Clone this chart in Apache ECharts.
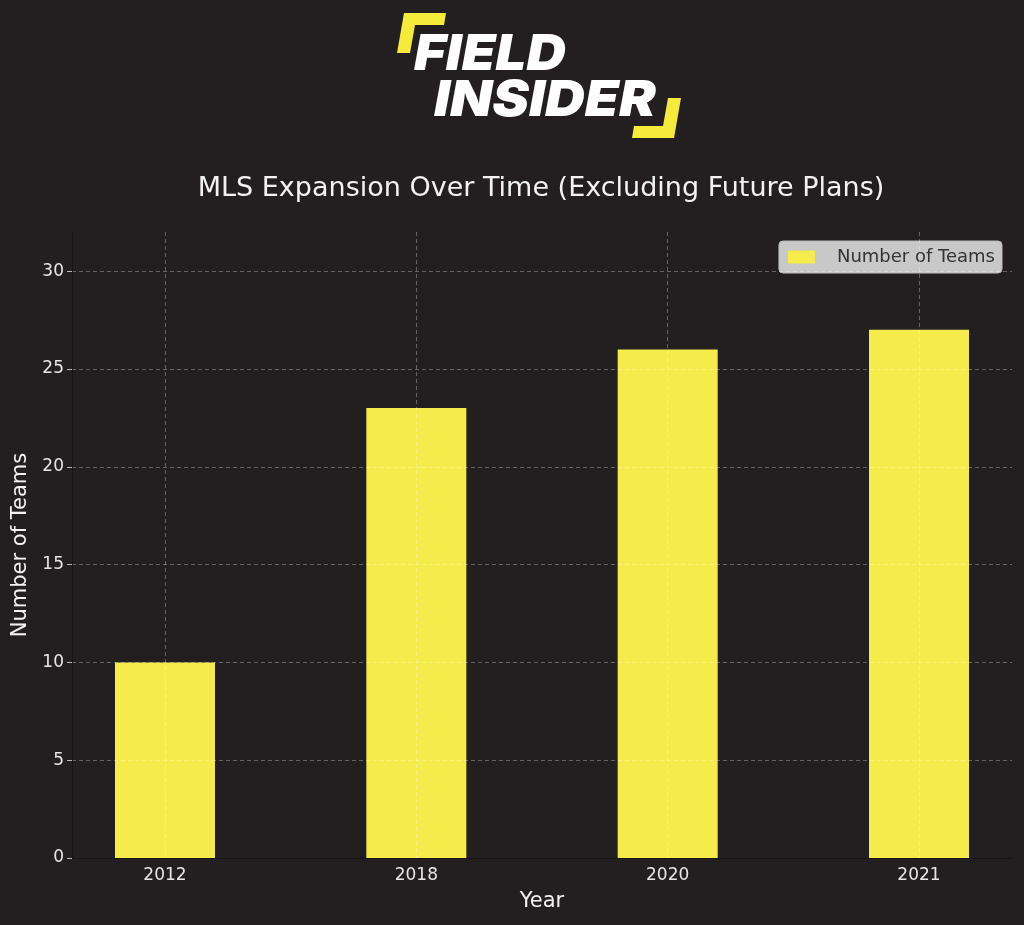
<!DOCTYPE html>
<html>
<head>
<meta charset="utf-8">
<script src="https://cdn.jsdelivr.net/npm/echarts@6/dist/echarts.min.js"></script>
<style>
html,body{margin:0;padding:0;background:#231f20;}
#chart{width:1024px;height:925px;}
</style>
</head>
<body>
<div id="chart"></div>
<script>
const years = ['2012', '2018', '2020', '2021'];
const teams = [10, 23, 26, 27];
const yTicks = [0, 5, 10, 15, 20, 25, 30];

const FONT = 'DejaVu Sans';
const positions = years.map((_, i) => i);
const barData = teams.map((v, i) => [i, v]);

const chart = echarts.init(document.getElementById('chart'), null, {renderer: 'canvas'});
chart.setOption({
  backgroundColor: '#231f20',
  animation: false,
  title: {
    text: 'MLS Expansion Over Time (Excluding Future Plans)',
    left: 536,
    textAlign: 'center',
    top: 170,
    textStyle: {color: '#f2f2f2', fontFamily: FONT, fontSize: 27, fontWeight: 'normal'}
  },
  legend: {
    data: ['Number of Teams'],
    icon: 'rect',
    right: 22,
    top: 241,
    itemWidth: 27,
    itemHeight: 13,
    backgroundColor: 'rgba(215,215,215,0.92)',
    borderColor: '#bbbbbb',
    borderWidth: 1,
    borderRadius: 4,
    padding: [7, 7, 7, 9],
    textStyle: {color: '#333333', fontFamily: FONT, fontSize: 18, padding: [0, 0, 0, 17]},
    itemGap: 10
  },
  grid: {left: 72, right: 12, top: 232, bottom: 67, outerBoundsMode: 'none', containLabel: false},
  xAxis: {
    type: 'value',
    min: -0.37,
    max: 3.37,
    z: 5,
    name: 'Year',
    nameLocation: 'middle',
    nameGap: 33,
    nameTextStyle: {color: '#f2f2f2', fontFamily: FONT, fontSize: 21},
    axisLine: {show: true, onZero: false, lineStyle: {color: '#161414', width: 1}},
    axisTick: {show: false, customValues: positions},
    axisLabel: {
      customValues: positions,
      color: '#e6e6e6', fontFamily: FONT, fontSize: 17, margin: 9,
      formatter: v => years[Math.round(v)]
    },
    splitLine: {show: true, lineStyle: {color: 'rgba(255,255,255,0.3)', type: [4, 3], width: 1}}
  },
  yAxis: {
    type: 'value',
    min: 0,
    max: 32,
    interval: 5,
    z: 5,
    name: 'Number of Teams',
    nameLocation: 'middle',
    nameGap: 37,
    nameTextStyle: {color: '#f2f2f2', fontFamily: FONT, fontSize: 21},
    axisLine: {show: true, onZero: false, lineStyle: {color: '#161414', width: 1}},
    axisTick: {show: true, length: 5, lineStyle: {color: '#bbbbbb'}, customValues: yTicks},
    axisLabel: {customValues: yTicks, color: '#e6e6e6', fontFamily: FONT, fontSize: 17, margin: 8},
    splitLine: {show: true, lineStyle: {color: 'rgba(255,255,255,0.3)', type: [4, 3], width: 1}}
  },
  series: [{
    name: 'Number of Teams',
    type: 'bar',
    data: barData,
    barWidth: 100,
    itemStyle: {color: '#f5eb4b'},
    z: 2
  }],
  graphic: [
    {type: 'polygon', shape: {points: [[404,13],[446,13],[444,25],[415,25],[410,53],[397,53]]}, style: {fill: '#f5eb3a'}},
    {type: 'polygon', shape: {points: [[668,98],[681,98],[674,138],[632,138],[634,126],[663,126]]}, style: {fill: '#f5eb3a'}},
    {type: 'text', x: 414, y: 30, scaleX: 1.09, style: {text: 'FIELD', fill: '#ffffff', fontFamily: 'Inter', fontWeight: 900, fontStyle: 'italic', fontSize: 50}},
    {type: 'text', x: 434, y: 76, scaleX: 1.1, style: {text: 'INSIDER', fill: '#ffffff', fontFamily: 'Inter', fontWeight: 900, fontStyle: 'italic', fontSize: 50}}
  ]
});
</script>
</body>
</html>
